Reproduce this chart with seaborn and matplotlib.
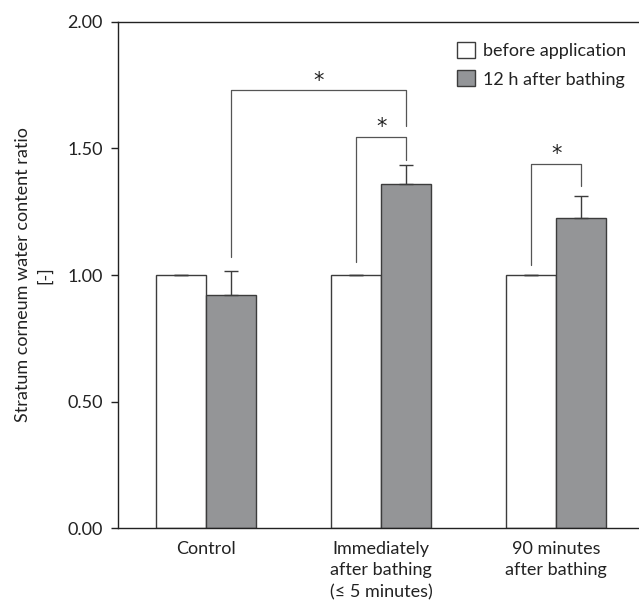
import numpy as np
import pandas as pd
import matplotlib
matplotlib.use('Agg')
import matplotlib.pyplot as plt
import seaborn as sns
from matplotlib.patches import Patch

groups = ['Control', 'Immediately\nafter bathing\n(≤ 5 minutes)', '90 minutes\nafter bathing']
conditions = ['before application', '12 h after bathing']
before_vals = [1.00, 1.00, 1.00]
after_vals = [0.92, 1.36, 1.225]
before_err = [0.0, 0.0, 0.0]
after_err = [0.095, 0.075, 0.088]

# significance brackets: (group_a, cond_a, group_b, cond_b, left foot, top, right foot)
brackets = [
    (0, 1, 1, 1, 1.07, 1.73, 1.59),
    (1, 0, 1, 1, 1.05, 1.545, 1.455),
    (2, 0, 2, 1, 1.04, 1.44, 1.35),
]

colors = ['#ffffff', '#939598']
edge = '#3c3c3c'
txt = '#222222'

sns.set_theme(style='white')
plt.rcParams['font.family'] = ['Lato', 'DejaVu Sans']

df = pd.DataFrame({
    'group': groups * 2,
    'cond': [conditions[0]] * 3 + [conditions[1]] * 3,
    'value': before_vals + after_vals,
    'err': before_err + after_err,
})

fig = plt.figure(figsize=(6.39, 6.07), dpi=100)
ax = fig.add_axes([0.1847, 0.1301, 0.8143, 0.8337])

sns.barplot(data=df, x='group', y='value', hue='cond', hue_order=conditions,
            palette=colors, width=0.57, errorbar=None, edgecolor=edge,
            linewidth=1.0, legend=False, ax=ax)

# map patches -> (group, cond) centers
bar_conts = list(ax.containers)
centers = {}
for ci, cont in enumerate(bar_conts):
    sub = df[df['cond'] == conditions[ci]]
    for gi, bar in enumerate(cont.patches):
        cx = bar.get_x() + bar.get_width() / 2
        centers[(gi, ci)] = cx
        val = sub['value'].iloc[gi]
        err = sub['err'].iloc[gi]
        ax.errorbar(cx, val, yerr=[[0], [err]], fmt='none', ecolor=edge,
                    elinewidth=1.0, capsize=5, capthick=1.0, zorder=3)

for ga, ca, gb, cb, yl, yt, yr in brackets:
    xa = centers[(ga, ca)]
    xb = centers[(gb, cb)]
    ax.plot([xa, xa, xb, xb], [yl, yt, yt, yr], color='#555555', lw=0.9)
    ax.text((xa + xb) / 2, yt + 0.038, '*', ha='center', va='center',
            fontsize=15, color=txt, family='DejaVu Sans')

ax.set_ylim(0, 2.0)
ax.set_xlim(-0.503, 2.47)
ax.set_yticks([0, 0.5, 1.0, 1.5, 2.0])
ax.set_yticklabels([f'{v:.2f}' for v in [0, 0.5, 1.0, 1.5, 2.0]])
ax.tick_params(axis='y', direction='out', length=5, width=1, color=txt,
               labelsize=13, labelcolor=txt, pad=6, left=True)
ax.tick_params(axis='x', length=0, labelsize=13, labelcolor=txt, pad=9)
for lab in ax.get_xticklabels():
    lab.set_linespacing(1.45)
ax.set_xlabel('')
ax.set_ylabel('Stratum corneum water content ratio\n[-]', fontsize=13,
              color=txt, labelpad=10, linespacing=1.45)

for s in ['left', 'bottom', 'top']:
    ax.spines[s].set_color(txt)
    ax.spines[s].set_linewidth(1.0)
ax.spines['right'].set_visible(False)

handles = [Patch(facecolor=colors[0], edgecolor=edge, lw=1.0),
           Patch(facecolor=colors[1], edgecolor=edge, lw=1.0)]
ax.legend(handles, conditions, loc='upper right', bbox_to_anchor=(1.0, 0.985),
          frameon=False, fontsize=13, handlelength=1.0, handleheight=1.0,
          handletextpad=0.4, labelspacing=0.6, borderaxespad=0.3,
          labelcolor=txt)

fig.savefig('out.png', dpi=100)
